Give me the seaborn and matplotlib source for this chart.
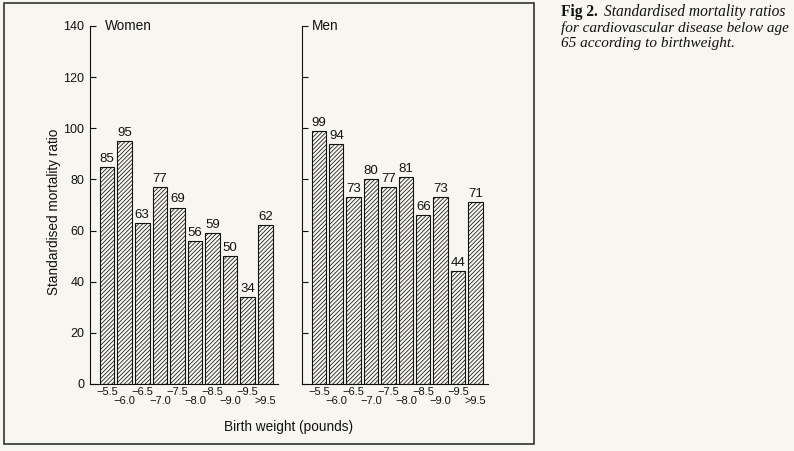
import matplotlib
matplotlib.use("Agg")
import matplotlib.pyplot as plt
import matplotlib.patches as mpatches
import seaborn as sns
import pandas as pd

# Dữ liệu
weight_bins = ["\u22125.5", "\u22126.0", "\u22126.5", "\u22127.0", "\u22127.5",
               "\u22128.0", "\u22128.5", "\u22129.0", "\u22129.5", ">9.5"]
women_smr = [85, 95, 63, 77, 69, 56, 59, 50, 34, 62]
men_smr = [99, 94, 73, 80, 77, 81, 66, 73, 44, 71]
y_ticks = [0, 20, 40, 60, 80, 100, 120, 140]

bg = "#f8f6f0"
W, H = 794, 451

sns.set_style("ticks")
plt.rcParams['font.family'] = ['Liberation Sans', 'DejaVu Sans']
plt.rcParams['text.color'] = '#111111'
plt.rcParams['xtick.color'] = '#111111'
plt.rcParams['ytick.color'] = '#111111'
plt.rcParams['axes.labelcolor'] = '#111111'
plt.rcParams['axes.edgecolor'] = '#111111'
plt.rcParams['hatch.linewidth'] = 0.55
plt.rcParams['hatch.color'] = '#222222'

fig = plt.figure(figsize=(W / 100, H / 100), dpi=100)
fig.patch.set_facecolor(bg)


def px_axes(left, right, top, bottom):
    return fig.add_axes([left / W, 1 - bottom / H, (right - left) / W, (bottom - top) / H])


ax_w = px_axes(90, 278, 26, 384)
ax_m = px_axes(302, 488, 26, 384)

for ax, vals, name, show_labels in [(ax_w, women_smr, "Women", True),
                                     (ax_m, men_smr, "Men", False)]:
    df = pd.DataFrame({"bin": weight_bins, "smr": vals})
    sns.barplot(data=df, x="bin", y="smr", order=weight_bins, ax=ax,
                color=bg, saturation=1, edgecolor="#111111", linewidth=0.8,
                hatch="////////", width=0.83)
    ax.set_facecolor(bg)
    ax.bar_label(ax.containers[0], padding=1.5, fontsize=9.5)
    ax.set_xlim(-0.97, 9.72)
    ax.set_ylim(0, 140)
    ax.set_yticks(y_ticks)
    ax.tick_params(axis="y", direction="in", length=4.5, width=0.8, labelsize=9, pad=4)
    if not show_labels:
        ax.set_yticklabels([])
    ax.tick_params(axis="x", length=0, labelsize=8)
    for i, t in enumerate(ax.xaxis.get_major_ticks()):
        t.set_pad(2 if i % 2 == 0 else 8.5)
    ax.set_xlabel("")
    ax.set_ylabel("")
    sns.despine(ax=ax)
    ax.spines["left"].set_linewidth(0.8)
    ax.spines["bottom"].set_linewidth(0.8)
    ax.text(0.08 if show_labels else 0.055, 1.0, name, transform=ax.transAxes,
            ha="left", va="center", fontsize=9.8)

ax_w.set_ylabel("Standardised mortality ratio", fontsize=9.8)
ax_w.yaxis.set_label_coords(-0.155, 0.48)

fig.text(289 / W, 1 - 427 / H, "Birth weight (pounds)", ha="center", va="center", fontsize=9.8)

# Khung viền
fig.patches.append(mpatches.Rectangle((3.5 / W, 1 - 444 / H), 530.5 / W, 441 / H,
                                      transform=fig.transFigure, fill=False,
                                      edgecolor="#333333", linewidth=1.2))

# Chú thích hình
cap_x = 561 / W
fig.text(cap_x, 1 - 12 / H, "Fig 2.", fontsize=11.2, fontweight="bold",
         family="Liberation Serif", va="center")
fig.text(cap_x + 43 / W, 1 - 12 / H, "Standardised mortality ratios", fontsize=11.2,
         style="italic", family="Liberation Serif", va="center")
fig.text(cap_x, 1 - 28 / H, "for cardiovascular disease below age", fontsize=11,
         style="italic", family="Liberation Serif", va="center")
fig.text(cap_x, 1 - 44 / H, "65 according to birthweight.", fontsize=11,
         style="italic", family="Liberation Serif", va="center")

fig.savefig("out.png", dpi=100, facecolor=bg)
